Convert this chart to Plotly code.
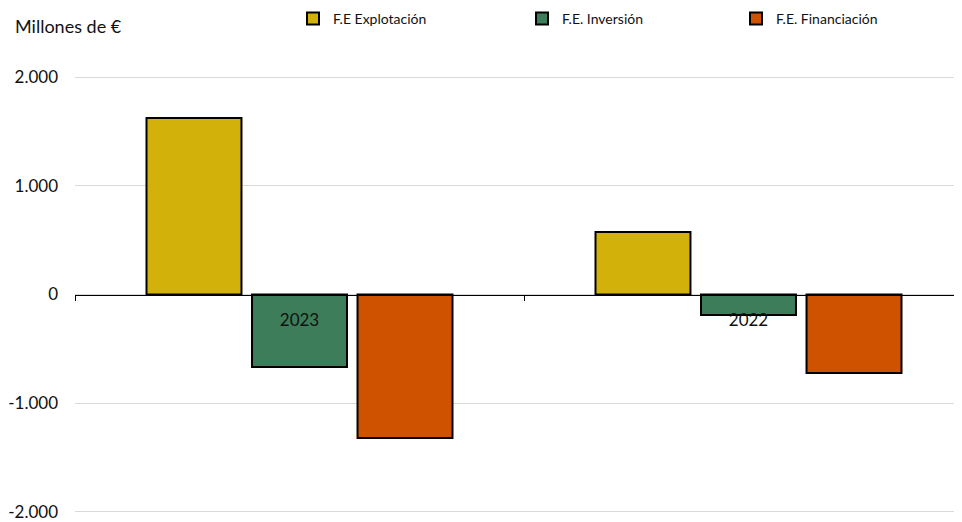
import plotly.graph_objects as go

years = ["2023", "2022"]
series_names = ["F.E Explotación", "F.E. Inversión", "F.E. Financiación"]
explotacion = [1624, 575]
inversion = [-667, -189]
financiacion = [-1320, -722]
series_values = [explotacion, inversion, financiacion]
colors = ["#D2B20A", "#3E7D5A", "#CE5200"]
y_tickvals = [-2000, -1000, 0, 1000, 2000]
y_ticktext = ["-2.000", "-1.000", "0", "1.000", "2.000"]

# page body has an 8px margin: shrink figure and shift coordinates by -8
OFF = 8
W, H = 962 - OFF, 522 - OFF
FONT = "Lato"

fig = go.Figure()
legend_ids = ["legend", "legend2", "legend3"]
for name, vals, col, lg in zip(series_names, series_values, colors, legend_ids):
    fig.add_trace(go.Bar(
        x=years, y=vals, name=name,
        marker=dict(color=col, line=dict(color="#000000", width=2)),
        legend=lg,
    ))

legend_text_x = [333, 562, 776]
common_legend = dict(
    xref="container", yref="container", xanchor="left", yanchor="middle",
    y=1 - (19 - OFF) / H, bgcolor="rgba(0,0,0,0)",
    font=dict(family=FONT, size=14, color="#111"),
    itemwidth=30,
)
layout_legends = {}
for lg, tx in zip(legend_ids, legend_text_x):
    layout_legends[lg] = dict(common_legend, x=(tx - OFF - 40) / W)

L, T, B = 75 - OFF, 75 - OFF, 8
PW, PH = W - L, H - T - B

fig.update_layout(
    width=W, height=H,
    margin=dict(l=L, r=0, t=T, b=B, autoexpand=False),
    paper_bgcolor="white", plot_bgcolor="white",
    barmode="group", bargap=0.295, bargroupgap=0.1,
    showlegend=True,
    font=dict(family=FONT, color="#111"),
    **layout_legends,
    xaxis=dict(
        type="category", range=[-0.5, 1.4755],
        tickson="boundaries", ticks="outside", ticklen=5, tickcolor="#000",
        showline=True, linecolor="#000", linewidth=1,
        showgrid=False, anchor="free", position=0.5,
        tickangle=0, automargin=False, ticklabelstandoff=10,
        tickfont=dict(family=FONT, size=17, color="#111"),
    ),
    yaxis=dict(
        range=[-2020, 2020], tickvals=y_tickvals, ticktext=y_ticktext,
        showgrid=True, gridcolor="#D9D9D9", gridwidth=1,
        zeroline=False, showline=False, ticks="",
        ticklabelstandoff=16, automargin=False,
        tickfont=dict(family=FONT, size=17, color="#111"),
    ),
    annotations=[dict(
        text="Millones de €", xref="paper", yref="paper",
        x=-(L - (13 - OFF)) / PW, y=1 + (T - (26 - OFF)) / PH,
        xanchor="left", yanchor="middle",
        showarrow=False, font=dict(family=FONT, size=18, color="#111"),
    )],
)

fig.write_html("out.html")
